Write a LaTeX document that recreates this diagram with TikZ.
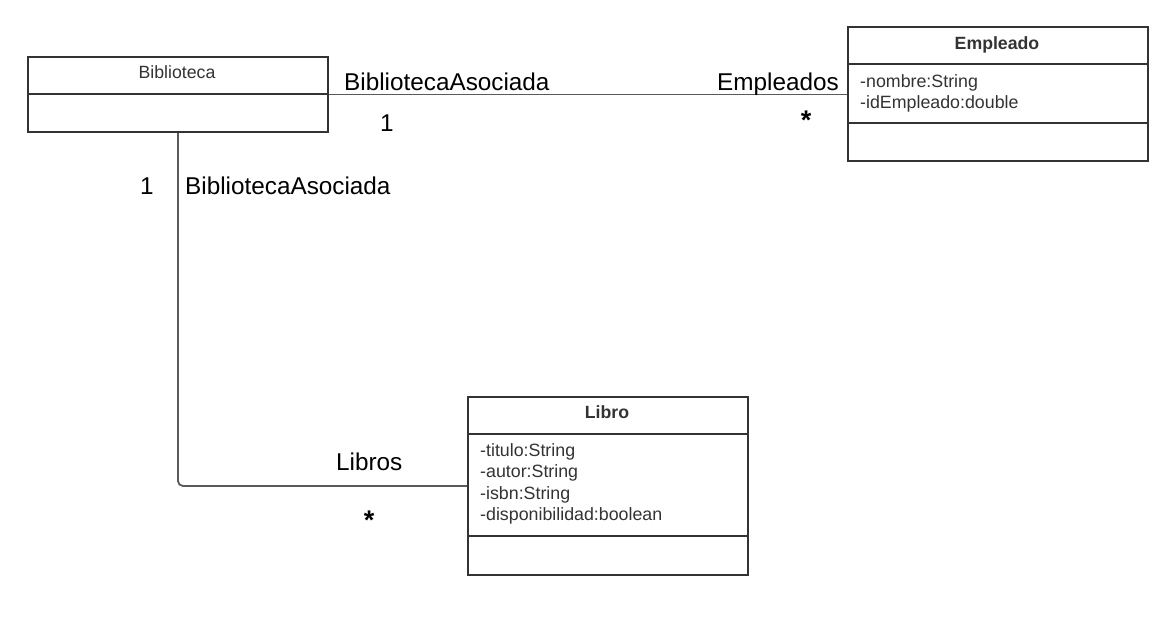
\documentclass[tikz,border=0pt]{standalone}
\usepackage{fontspec}
\setmainfont{Liberation Sans}
\definecolor{boxline}{RGB}{51,51,51}
\definecolor{conn}{RGB}{90,90,90}
\definecolor{boxtext}{RGB}{51,51,51}
\tikzset{
  classbox/.style={draw=boxline, line width=2pt, fill=white, inner sep=0pt, anchor=north west},
  divider/.style={draw=boxline, line width=2pt},
  assoc/.style={draw=conn, line width=1.8pt},
  lbl/.style={inner sep=0pt, font=\fontsize{24.3}{28}\selectfont, text=black},
  star/.style={inner sep=0pt, anchor=center, font=\fontsize{27}{30}\selectfont\bfseries, text=black},
  ctitle/.style={inner sep=0pt, anchor=base, text=boxtext},
  attr/.style={inner sep=0pt, anchor=base west, text=boxtext, font=\fontsize{17.8}{20}\selectfont},
}
\begin{document}
\begin{tikzpicture}[x=1pt, y=-1pt]
\useasboundingbox (0,0) rectangle (1166,633);
% classes
\node[classbox, minimum width=300pt, minimum height=75pt] (bib) at (27,56) {};
\node[classbox, minimum width=300pt, minimum height=134pt] (emp) at (847,26) {};
\node[classbox, minimum width=280pt, minimum height=178pt] (lib) at (467,396) {};
% dividers
\draw[divider] (27,94) -- (327,94);
\draw[divider] (847,64) -- (1147,64);
\draw[divider] (847,123) -- (1147,123);
\draw[divider] (467,434) -- (747,434);
\draw[divider] (467,536) -- (747,536);
% titles
\node[ctitle, font=\fontsize{17.7}{20}\selectfont] (bibt) at (177,78.5) {Biblioteca};
\node[ctitle, font=\fontsize{17.7}{20}\selectfont\bfseries] (empt) at (997,49.5) {Empleado};
\node[ctitle, font=\fontsize{17.7}{20}\selectfont\bfseries] (libt) at (607,418.5) {Libro};
% attributes
\node[attr] (ea1) at (860,87) {-nombre:String};
\node[attr] (ea2) at (860,108) {-idEmpleado:double};
\node[attr] (la1) at (480,456) {-titulo:String};
\node[attr] (la2) at (480,477.5) {-autor:String};
\node[attr] (la3) at (480,499) {-isbn:String};
\node[attr] (la4) at (480,520.5) {-disponibilidad:boolean};
% connectors
\draw[assoc] (bib.east) -- (bib.east -| emp.west);
\draw[assoc, rounded corners=5pt] (bib.south) |- (lib.west);
% labels
\node[lbl, anchor=base west] (l1) at (344,90) {BibliotecaAsociada};
\node[lbl, anchor=base] (m1) at (387,131) {1};
\node[lbl, anchor=base east] (l2) at (839,90) {Empleados};
\node[star] (m2) at (806,120) {*};
\node[lbl, anchor=base] (m3) at (147,194.5) {1};
\node[lbl, anchor=base west] (l3) at (185,194.5) {BibliotecaAsociada};
\node[lbl, anchor=base west] (l4) at (336,470) {Libros};
\node[star] (m4) at (369,520) {*};
\end{tikzpicture}
\end{document}
